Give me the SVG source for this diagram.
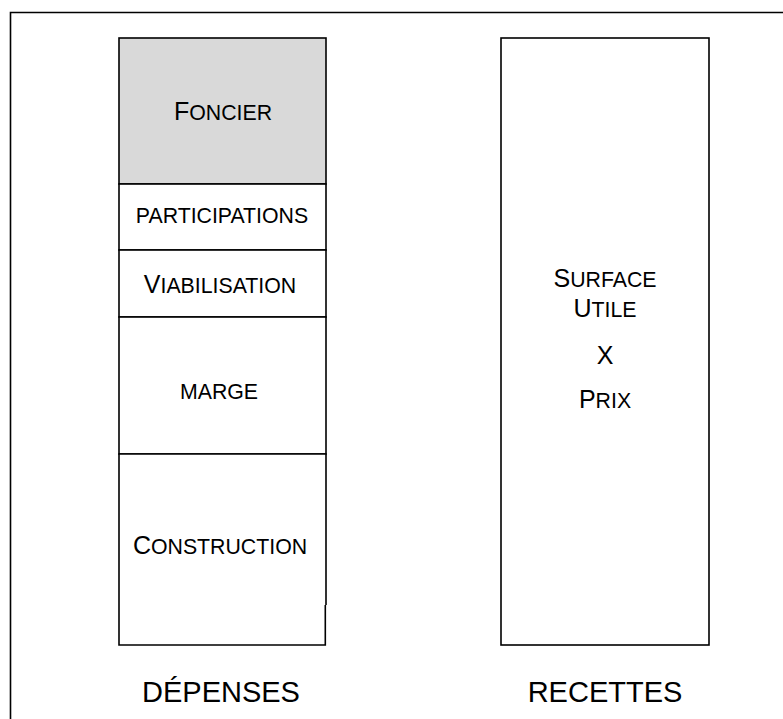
<svg xmlns="http://www.w3.org/2000/svg" width="783" height="719" viewBox="0 0 783 719">
  <style>
    .box { fill: #ffffff; stroke: #000000; stroke-width: 1.6; }
    .gray { fill: #d9d9d9; }
    .edge { fill: none; stroke: #000000; stroke-width: 1.6; }
    .frame { fill: none; stroke: #000000; stroke-width: 1.6; }
    text { font-family: "Liberation Sans", Arial, sans-serif; fill: #000000; text-anchor: middle; }
    .sc { font-size: 21.3px; }
    .big { font-size: 25px; }
    .label { font-size: 29px; }
  </style>
  <rect x="0" y="0" width="783" height="719" fill="#ffffff"/>
  <path class="frame" d="M10.5,725 V12.5 H790"/>

  <g id="foncier">
    <rect class="box gray" x="119" y="38" width="207" height="146"/>
    <text x="223" y="120"><tspan class="big">F</tspan><tspan class="sc">ONCIER</tspan></text>
  </g>
  <g id="participations">
    <rect class="box" x="119" y="184" width="207" height="66"/>
    <text class="sc" x="222" y="223">PARTICIPATIONS</text>
  </g>
  <g id="viabilisation">
    <rect class="box" x="119" y="250" width="207" height="67"/>
    <text x="220" y="293"><tspan class="big">V</tspan><tspan class="sc">IABILISATION</tspan></text>
  </g>
  <g id="marge">
    <rect class="box" x="119" y="317" width="207" height="137"/>
    <text class="sc" x="219" y="399">MARGE</text>
  </g>
  <g id="construction">
    <rect x="119" y="454" width="207" height="191" fill="#ffffff"/>
    <path class="edge" d="M326,605 V454 H119 V645 H325.3 V605"/>
    <text x="220" y="554"><tspan class="big">C</tspan><tspan class="sc">ONSTRUCTION</tspan></text>
  </g>
  <g id="recettes-box">
    <rect class="box" x="501" y="38" width="208" height="607"/>
    <text x="605" y="287"><tspan class="big">S</tspan><tspan class="sc">URFACE</tspan></text>
    <text x="605" y="317"><tspan class="big">U</tspan><tspan class="sc">TILE</tspan></text>
    <text class="big" x="605" y="364">X</text>
    <text x="605" y="408"><tspan class="big">P</tspan><tspan class="sc">RIX</tspan></text>
  </g>
  <g id="label-depenses">
    <text class="label" x="221" y="702">DÉPENSES</text>
  </g>
  <g id="label-recettes">
    <text class="label" x="605" y="702">RECETTES</text>
  </g>
  <g id="connectors"></g>
</svg>
